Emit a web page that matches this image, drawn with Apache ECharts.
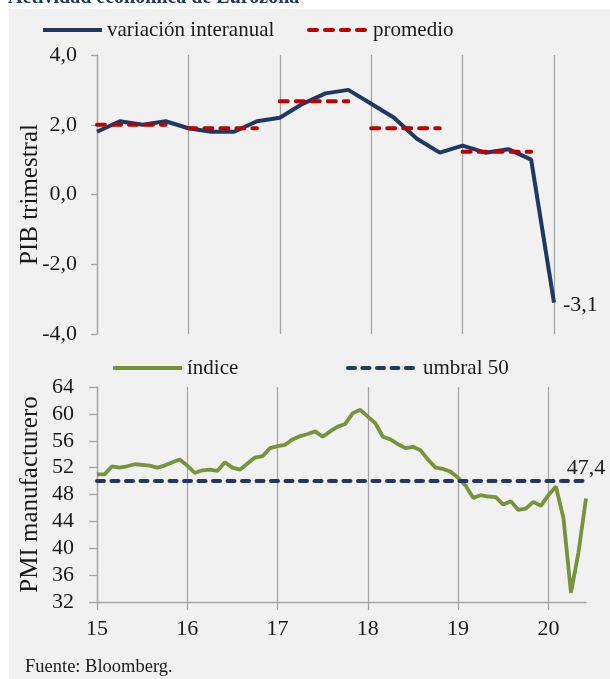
<!DOCTYPE html>
<html>
<head>
<meta charset="utf-8">
<script src="https://cdn.jsdelivr.net/npm/echarts@6/dist/echarts.min.js"></script>
<style>
html, body { margin: 0; padding: 0; background: #fff; }
#chart { width: 610px; height: 679px; }
</style>
</head>
<body>
<div id="chart"></div>
<script>
const yearLabels = ['15', '16', '17', '18', '19', '20']
// PIB, variación interanual trimestral (1T15 .. 1T20)
const gdpYoY = [1.8, 2.1, 2.0, 2.1, 1.9, 1.8, 1.8, 2.1, 2.2, 2.6, 2.9, 3.0, 2.6, 2.2, 1.6, 1.2, 1.4, 1.2, 1.3, 1.0, -3.1]
// promedio de cada año (2015 .. 2019)
const gdpAvg = [2.0, 1.9, 2.675, 1.9, 1.225]
// PMI manufacturero mensual (ene-15 .. jun-20)
const pmi = [
  51.0, 51.0, 52.2, 52.0, 52.2, 52.5, 52.4, 52.3, 52.0, 52.3, 52.8, 53.2,
  52.3, 51.2, 51.6, 51.7, 51.5, 52.8, 52.0, 51.7, 52.6, 53.5, 53.7, 54.9,
  55.2, 55.4, 56.2, 56.7, 57.0, 57.4, 56.6, 57.4, 58.1, 58.5, 60.1, 60.6,
  59.6, 58.6, 56.6, 56.2, 55.5, 54.9, 55.1, 54.6, 53.2, 52.0, 51.8, 51.4,
  50.5, 49.3, 47.5, 47.9, 47.7, 47.6, 46.5, 47.0, 45.7, 45.9, 46.9, 46.3,
  47.9, 49.2, 44.5, 33.4, 39.4, 47.4
]
const pmiThreshold = 50

const font = 'Liberation Serif'
const ink = '#1a1a1a'
const navy = '#1f3864'
const red = '#c00000'
const green = '#77933c'
const gray = '#a6a6a6'

const fmt = v => Number(v).toFixed(1).replace('.', ',')
const yearStart = i => i % 12 === 0

// categorías mensuales para el eje del PMI
const months = []
yearLabels.forEach(y => { for (let m = 1; m <= 12; m++) months.push(y + '-' + m) })
const pmiMonths = months.slice(0, pmi.length)

const gdpPoints = gdpYoY.map((v, i) => [i, v])
// un tramo por año, cortado entre años
const avgPoints = []
gdpAvg.forEach((v, i) => {
  avgPoints.push([i * 4, v], [i * 4 + 3, v], [i * 4 + 3.5, '-'])
})

const axisLine = { lineStyle: { color: gray, width: 1.3 } }
const labelText = { fontFamily: font, fontSize: 22, color: ink }

function legendAt(name, left, top, width) {
  return {
    data: [name], left, top, padding: 0,
    itemWidth: width, itemHeight: 22, selectedMode: false,
    itemStyle: { opacity: 0 },
    lineStyle: { width: 4 },
    textStyle: { fontFamily: font, fontSize: 21, color: ink, lineHeight: 22 }
  }
}

const chart = echarts.init(document.getElementById('chart'))
chart.setOption({
  animation: false,
  backgroundColor: '#fff',
  graphic: [
    { type: 'rect', left: 9, top: 9, z: -10, silent: true, shape: { width: 601, height: 670 }, style: { fill: '#f1f1f1' } },
    { type: 'text', left: 8, top: -12, style: { text: 'Actividad económica de Eurozona', font: 'bold 20px "Liberation Serif"', fill: navy } },
    { type: 'text', left: 25, top: 658, style: { text: 'Fuente: Bloomberg.', font: '18.5px "Liberation Serif"', fill: ink } }
  ],
  legend: [
    legendAt('variación interanual', 41, 19, 59),
    legendAt('promedio', 307, 19, 59),
    legendAt('índice', 111, 357, 69),
    legendAt('umbral 50', 346, 357, 70)
  ],
  grid: [
    { left: 97, right: 56, top: 55, bottom: 345 },
    { left: 97, right: 24, top: 387, bottom: 77 }
  ],
  xAxis: [{
    type: 'value', gridIndex: 0, min: 0, max: 20, interval: 4,
    axisLine: { show: false }, axisTick: { show: false }, axisLabel: { show: false },
    splitLine: { show: true, lineStyle: { color: gray, width: 1.3 } }
  }, {
    type: 'category', gridIndex: 1, data: pmiMonths, boundaryGap: false,
    axisLine: { show: true, ...axisLine },
    axisTick: { show: true, length: 8, interval: yearStart, ...axisLine },
    axisLabel: { interval: yearStart, formatter: (v, i) => yearLabels[i / 12], margin: 16, ...labelText },
    splitLine: { show: true, interval: yearStart, lineStyle: { color: gray, width: 1.3 } }
  }],
  yAxis: [{
    type: 'value', gridIndex: 0, min: -4, max: 4, interval: 2,
    name: 'PIB trimestral', nameLocation: 'middle', nameGap: 54, nameMoveOverlap: false,
    nameTextStyle: { fontFamily: font, fontSize: 25, color: ink },
    axisLine: { show: true, ...axisLine },
    axisTick: { show: true, length: 6, ...axisLine },
    axisLabel: { formatter: fmt, margin: 20, ...labelText },
    splitLine: { show: false }
  }, {
    type: 'value', gridIndex: 1, min: 32, max: 64, interval: 4,
    name: 'PMI manufacturero', nameLocation: 'middle', nameGap: 54, nameMoveOverlap: false,
    nameTextStyle: { fontFamily: font, fontSize: 25, color: ink },
    axisLine: { show: true, ...axisLine },
    axisTick: { show: true, length: 8, ...axisLine },
    axisLabel: { margin: 23, ...labelText },
    splitLine: { show: false }
  }],
  series: [{
    name: 'variación interanual', type: 'line', xAxisIndex: 0, yAxisIndex: 0,
    data: gdpPoints, symbol: 'none', z: 3,
    itemStyle: { color: navy },
    lineStyle: { color: navy, width: 4 },
    endLabel: { show: true, formatter: p => fmt(p.value[1]), distance: 9, offset: [0, 3], ...labelText }
  }, {
    name: 'promedio', type: 'line', xAxisIndex: 0, yAxisIndex: 0,
    data: avgPoints, symbol: 'none', connectNulls: false, z: 4,
    itemStyle: { color: red },
    lineStyle: { color: red, width: 4, type: [8, 8], cap: 'round' }
  }, {
    name: 'índice', type: 'line', xAxisIndex: 1, yAxisIndex: 1,
    data: pmi, symbol: 'none', z: 4,
    itemStyle: { color: green },
    lineStyle: { color: green, width: 3.8 },
    endLabel: {
      show: true, formatter: p => fmt(p.value), distance: 0, offset: [0, -19],
      align: 'center', verticalAlign: 'bottom', ...labelText
    }
  }, {
    name: 'umbral 50', type: 'line', xAxisIndex: 1, yAxisIndex: 1,
    data: [], symbol: 'none', z: 3,
    itemStyle: { color: navy },
    lineStyle: { color: navy, width: 4, type: [7, 7.5], cap: 'round' },
    markLine: {
      symbol: 'none', silent: true, label: { show: false },
      lineStyle: { color: navy, width: 4, type: [7, 7.5], cap: 'round' },
      data: [{ yAxis: pmiThreshold }]
    }
  }]
})
</script>
</body>
</html>
